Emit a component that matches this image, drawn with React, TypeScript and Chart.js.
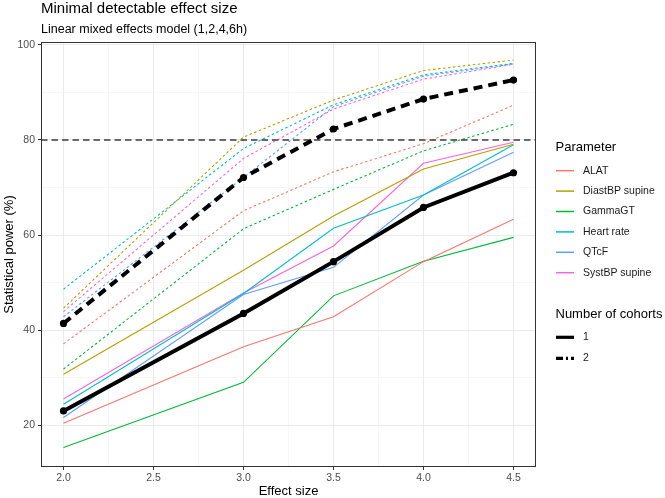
import React, { useEffect, useRef } from 'react';
import { Chart, registerables } from 'chart.js';

Chart.register(...registerables);

// ---------- data ----------
const effectSizes = [2.0, 3.0, 3.5, 4.0, 4.5];

const parameters = ['ALAT', 'DiastBP supine', 'GammaGT', 'Heart rate', 'QTcF', 'SystBP supine'];
const parameterColors = ['#F8766D', '#B79F00', '#00BA38', '#00BFC4', '#619CFF', '#F564E3'];

// one cohort (solid)
const alat1 = [20.4, 36.5, 42.8, 54.4, 63.3];
const diast1 = [30.7, 52.6, 64.0, 73.9, 79.1];
const gamma1 = [15.3, 29.0, 47.2, 54.5, 59.5];
const heart1 = [24.4, 47.7, 61.4, 68.4, 79.0];
const qtcf1 = [21.6, 47.5, 53.2, 68.4, 77.4];
const syst1 = [25.5, 47.8, 57.7, 75.1, 79.5];
const mean1 = [23.0, 43.5, 54.4, 65.8, 73.1];

// two cohorts (dashed)
const alat2 = [37.1, 65.1, 73.3, 79.2, 87.3];
const diast2 = [44.6, 80.6, 88.4, 94.6, 96.8];
const gamma2 = [31.8, 61.3, 69.6, 77.7, 83.3];
const heart2 = [48.6, 78.2, 87.4, 93.7, 96.1];
const qtcf2 = [42.8, 72.1, 87.0, 93.4, 96.0];
const syst2 = [43.9, 76.1, 86.5, 92.8, 95.9];
const mean2 = [41.4, 72.1, 82.3, 88.6, 92.6];

const cohortLabels = ['1', '2'];

const xMajorTicks = [2.0, 2.5, 3.0, 3.5, 4.0, 4.5];
const xMinorTicks = [2.25, 2.75, 3.25, 3.75, 4.25];
const yMajorTicks = [20, 40, 60, 80, 100];
const yMinorTicks = [30, 50, 70, 90];
const threshold = 80;

const titleText = 'Minimal detectable effect size';
const subtitleText = 'Linear mixed effects model (1,2,4,6h)';
const xTitle = 'Effect size';
const yTitle = 'Statistical power (%)';
const legendTitle1 = 'Parameter';
const legendTitle2 = 'Number of cohorts';

const FONT = "'Liberation Sans', Arial, sans-serif";

export default function App() {
  const ref = useRef<HTMLCanvasElement | null>(null);

  useEffect(() => {
    document.body.style.margin = '0';
    const canvas = ref.current;
    if (!canvas) return;

    const series1 = [alat1, diast1, gamma1, heart1, qtcf1, syst1];
    const series2 = [alat2, diast2, gamma2, heart2, qtcf2, syst2];
    const toPts = (arr: number[]) => arr.map((y, i) => ({ x: effectSizes[i], y }));

    const datasets: any[] = [];
    parameters.forEach((p, i) => {
      datasets.push({
        label: p + ' 1',
        data: toPts(series1[i]),
        borderColor: parameterColors[i],
        borderWidth: 1.1,
        pointRadius: 0,
        tension: 0,
        order: 2,
      });
    });
    parameters.forEach((p, i) => {
      datasets.push({
        label: p + ' 2',
        data: toPts(series2[i]),
        borderColor: parameterColors[i],
        borderWidth: 1.1,
        borderDash: [2.5, 2.5],
        pointRadius: 0,
        tension: 0,
        order: 2,
      });
    });
    datasets.push({
      label: 'mean 1',
      data: toPts(mean1),
      borderColor: '#000000',
      backgroundColor: '#000000',
      borderWidth: 4,
      pointRadius: 3.6,
      pointBorderWidth: 0,
      pointBackgroundColor: '#000000',
      tension: 0,
      order: 1,
    });
    datasets.push({
      label: 'mean 2',
      data: toPts(mean2),
      borderColor: '#000000',
      backgroundColor: '#000000',
      borderWidth: 4,
      borderDash: [9, 6],
      pointRadius: 3.6,
      pointBorderWidth: 0,
      pointBackgroundColor: '#000000',
      tension: 0,
      order: 1,
    });

    const isMajorX = (v: number) => xMajorTicks.some((t) => Math.abs(t - v) < 1e-6);
    const isMajorY = (v: number) => yMajorTicks.some((t) => Math.abs(t - v) < 1e-6);

    const decor = {
      id: 'decor',
      afterDatasetDraw(chart: any, args: any) {
        if (args.index !== 0) return;
        const { ctx, chartArea } = chart;
        const y = chart.scales.y.getPixelForValue(threshold);
        ctx.save();
        ctx.beginPath();
        ctx.rect(chartArea.left, chartArea.top, chartArea.right - chartArea.left, chartArea.bottom - chartArea.top);
        ctx.clip();
        ctx.strokeStyle = '#3C3C3C';
        ctx.lineWidth = 1.4;
        ctx.setLineDash([6.5, 4]);
        ctx.beginPath();
        ctx.moveTo(chartArea.left, y);
        ctx.lineTo(chartArea.right, y);
        ctx.stroke();
        ctx.restore();
      },
      afterDraw(chart: any) {
        const { ctx, chartArea } = chart;
        ctx.save();
        // panel border
        ctx.strokeStyle = '#333333';
        ctx.lineWidth = 1;
        ctx.setLineDash([]);
        ctx.strokeRect(chartArea.left + 0.5, chartArea.top + 0.5, chartArea.right - chartArea.left - 1, chartArea.bottom - chartArea.top - 1);

        // titles
        ctx.fillStyle = '#000000';
        ctx.textAlign = 'left';
        ctx.textBaseline = 'alphabetic';
        ctx.font = `15px ${FONT}`;
        ctx.fillText(titleText, chartArea.left, 13);
        ctx.font = `12.5px ${FONT}`;
        ctx.fillText(subtitleText, chartArea.left, 32.5);

        // axis titles
        ctx.font = `13px ${FONT}`;
        ctx.textAlign = 'center';
        ctx.textBaseline = 'middle';
        ctx.fillText(xTitle, (chartArea.left + chartArea.right) / 2, 491);
        ctx.save();
        ctx.translate(9.5, (chartArea.top + chartArea.bottom) / 2);
        ctx.rotate(-Math.PI / 2);
        ctx.fillText(yTitle, 0, 0);
        ctx.restore();

        // legend 1
        const kx0 = 556;
        const kx1 = 574;
        const lx = 583;
        ctx.textAlign = 'left';
        ctx.textBaseline = 'middle';
        ctx.font = `13px ${FONT}`;
        ctx.fillStyle = '#000000';
        ctx.fillText(legendTitle1, 555.5, 147);
        ctx.font = `10.5px ${FONT}`;
        parameters.forEach((p, i) => {
          const y = 170.7 + i * 20.4;
          ctx.strokeStyle = parameterColors[i];
          ctx.lineWidth = 1.5;
          ctx.setLineDash([]);
          ctx.beginPath();
          ctx.moveTo(kx0, y);
          ctx.lineTo(kx1, y);
          ctx.stroke();
          ctx.fillStyle = '#1A1A1A';
          ctx.fillText(p, lx, y);
        });

        // legend 2
        ctx.font = `13px ${FONT}`;
        ctx.fillStyle = '#000000';
        ctx.fillText(legendTitle2, 555.5, 314.5);
        ctx.font = `10.5px ${FONT}`;
        cohortLabels.forEach((c, i) => {
          const y = 337.3 + i * 21;
          ctx.strokeStyle = '#000000';
          ctx.lineWidth = 3.2;
          ctx.setLineDash(i === 0 ? [] : [7, 3, 2, 3]);
          ctx.beginPath();
          ctx.moveTo(kx0, y);
          ctx.lineTo(kx1, y);
          ctx.stroke();
          ctx.setLineDash([]);
          ctx.fillStyle = '#1A1A1A';
          ctx.fillText(c, lx, y);
        });
        ctx.restore();
      },
    };

    const chart = new Chart(canvas, {
      type: 'line',
      data: { datasets },
      options: {
        animation: false,
        responsive: false,
        maintainAspectRatio: false,
        layout: { padding: { left: 0, right: 129, top: 42, bottom: 0 } },
        plugins: {
          legend: { display: false },
          title: { display: false },
          tooltip: { enabled: false },
        },
        scales: {
          x: {
            type: 'linear',
            min: 1.875,
            max: 4.625,
            afterBuildTicks: (scale: any) => {
              scale.ticks = [...xMajorTicks, ...xMinorTicks].sort((a, b) => a - b).map((v) => ({ value: v }));
            },
            afterFit: (scale: any) => {
              scale.height = 31;
            },
            border: { display: false },
            grid: {
              color: (ctx: any) => (ctx.tick && isMajorX(ctx.tick.value) ? '#EBEBEB' : '#F3F3F3'),
              lineWidth: (ctx: any) => (ctx.tick && isMajorX(ctx.tick.value) ? 1 : 0.7),
              tickColor: (ctx: any) => (ctx.tick && isMajorX(ctx.tick.value) ? '#333333' : 'rgba(0,0,0,0)'),
              tickLength: 3,
              drawTicks: true,
            },
            ticks: {
              autoSkip: false,
              maxRotation: 0,
              padding: 1.5,
              color: '#4D4D4D',
              font: { family: FONT, size: 10.5 },
              callback: (value: any) => (isMajorX(Number(value)) ? Number(value).toFixed(1) : ''),
            },
          },
          y: {
            type: 'linear',
            min: 11.2,
            max: 100.6,
            afterBuildTicks: (scale: any) => {
              scale.ticks = [...yMajorTicks, ...yMinorTicks].sort((a, b) => a - b).map((v) => ({ value: v }));
            },
            afterFit: (scale: any) => {
              scale.width = 41;
            },
            border: { display: false },
            grid: {
              color: (ctx: any) => (ctx.tick && isMajorY(ctx.tick.value) ? '#EBEBEB' : '#F3F3F3'),
              lineWidth: (ctx: any) => (ctx.tick && isMajorY(ctx.tick.value) ? 1 : 0.7),
              tickColor: (ctx: any) => (ctx.tick && isMajorY(ctx.tick.value) ? '#333333' : 'rgba(0,0,0,0)'),
              tickLength: 3,
              drawTicks: true,
            },
            ticks: {
              autoSkip: false,
              padding: 3,
              color: '#4D4D4D',
              font: { family: FONT, size: 10.5 },
              callback: (value: any) => (isMajorY(Number(value)) ? String(value) : ''),
            },
          },
        },
      },
      plugins: [decor],
    });

    return () => {
      chart.destroy();
    };
  }, []);

  return (
    <div style={{ width: 665, height: 498 }}>
      <canvas ref={ref} width={665} height={498} style={{ display: 'block', width: 665, height: 498 }} />
    </div>
  );
}
